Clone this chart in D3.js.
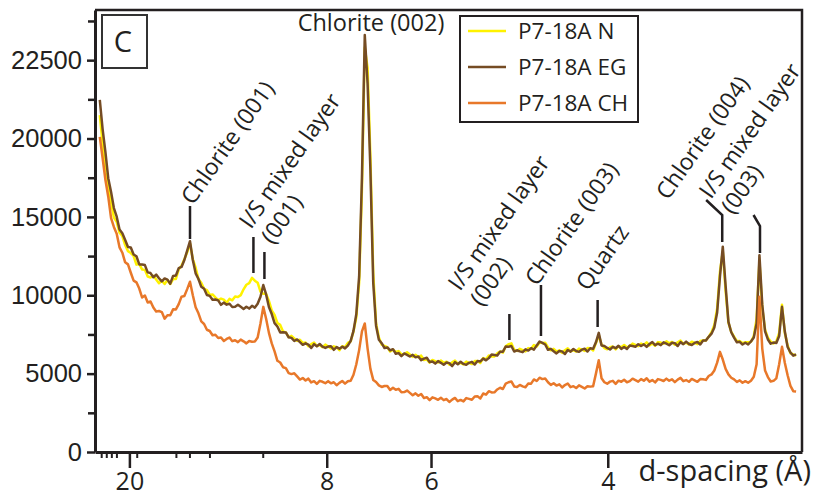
<!DOCTYPE html>
<html>
<head>
<meta charset="utf-8">
<script src="https://cdn.jsdelivr.net/npm/d3@7/dist/d3.min.js"></script>
<style>
  body { margin: 0; background: #fff; }
  svg { display: block; }
</style>
</head>
<body>
<script>
// 2-theta grid of the scan (degrees), one value every 0.1 deg
var twoThetaStart = 3.0,
    twoThetaStep = 0.1;

var seriesNames = ["P7-18A N", "P7-18A EG", "P7-18A CH"];
var seriesColors = ["#fff200", "#754c24", "#e8782a"];

// counts, rows = whole degrees 3..27
var countsN = [
  21500,19685,17835,16975,15930,14960,14685,13990,13780,13205,
  12815,12695,12505,11955,11990,11650,11620,11195,11135,11240,
  11010,10765,10935,10720,10975,10715,11035,11040,11655,11880,
  12300,12740,13300,12300,11760,11030,10800,10410,10330,10020,
  10050,9860,9690,9790,9720,9520,9770,9680,9920,9890,
  10010,10380,10670,10770,11110,10930,10800,10230,10090,10090,
  9640,9030,8740,8230,8110,7690,7630,7330,7410,7250,
  7090,7160,6960,6980,6750,6880,6980,6760,6820,6690,
  6850,6730,6610,6740,6690,6490,6750,6680,6960,7060,
  7700,8600,10800,16800,25800,24500,18800,11400,8200,7300,
  6850,6770,6690,6410,6530,6380,6440,6230,6250,6360,
  6220,6070,6200,6050,6150,5870,5910,5700,5870,5800,
  5710,5840,5690,5760,5570,5720,5830,5620,5690,5590,
  5770,5690,5610,5800,5810,5680,5990,5920,6160,6090,
  6100,6290,6410,6340,6740,6880,6930,6530,6450,6580,
  6500,6420,6630,6580,6820,6730,6980,6960,6970,6680,
  6490,6580,6410,6490,6320,6490,6610,6420,6500,6410,
  6600,6530,6450,6630,6620,6480,6950,7450,6850,6630,
  6550,6680,6730,6550,6750,6690,6830,6680,6750,6920,
  6840,6750,6920,6830,7000,6800,6920,6780,7010,6980,
  6910,7060,6930,7020,6840,7000,7110,6900,6970,6860,
  7040,6960,6880,7080,7110,7120,7350,7650,8100,9150,
  11500,12800,10300,8250,7660,7360,7070,7080,6940,7000,
  7010,7030,7400,8500,12200,9200,7800,7290,7050,6920,
  7050,7600,9400,7600,6800,6300,6230,6150
];

var countsEG = [
  22460,20595,19135,17470,16595,15565,15015,14190,13955,13530,
  13075,13050,12605,12490,11970,11960,11925,11460,11415,11150,
  11320,11085,10885,11075,11000,10740,11235,11260,11730,11805,
  12250,12850,13450,12250,11400,11040,10540,10420,10020,9960,
  9710,9730,9670,9390,9530,9400,9460,9250,9270,9390,
  9260,9130,9270,9150,9330,9210,9460,9900,10650,10050,
  9250,8800,8220,8010,7630,7640,7630,7320,7280,7080,
  7180,7010,6840,6930,6850,6640,6880,6740,6890,6720,
  6640,6730,6750,6520,6690,6590,6720,6610,6790,7090,
  7730,8800,11200,17500,26600,23500,18000,10800,8060,7160,
  6940,6630,6670,6480,6560,6270,6310,6120,6290,6200,
  6090,6200,6040,6090,5860,5960,6010,5740,5770,5640,
  5800,5690,5570,5710,5670,5480,5730,5600,5760,5620,
  5560,5690,5750,5580,5810,5780,5960,5850,5990,6220,
  6190,6150,6390,6400,6730,6710,6760,6410,6490,6420,
  6370,6550,6470,6620,6530,6800,7050,6960,6860,6520,
  6580,6430,6290,6440,6420,6250,6510,6400,6570,6440,
  6390,6530,6590,6410,6620,6580,7000,7600,6800,6760,
  6640,6540,6710,6620,6780,6580,6700,6570,6790,6760,
  6710,6880,6760,6870,6710,6890,7020,6820,6910,6820,
  7000,6910,6810,6970,6940,6760,7010,6880,7040,6890,
  6830,6960,7020,6860,7110,7110,7350,7550,7950,8900,
  11200,13100,10600,8300,7640,7300,7000,7030,6860,6970,
  6860,7050,7300,8200,12560,9400,7700,7180,6910,6980,
  6960,7400,9260,7700,6700,6350,6150,6230
];

var countsCH = [
  20100,18750,17355,16290,14920,14360,13925,13060,12715,12100,
  11970,11435,10935,10825,10430,9860,9985,9540,9600,9215,
  8965,8995,8925,8505,8730,8720,9100,9095,9435,9910,
  9950,10390,10860,10000,9240,8850,8330,8170,7800,7720,
  7450,7480,7270,7310,7080,7210,7300,7070,7130,7010,
  7170,7060,6930,7080,7040,7050,7300,8200,9260,8500,
  7600,6930,6420,5820,5710,5410,5350,5030,4970,5020,
  4820,4620,4720,4560,4680,4440,4520,4350,4540,4480,
  4390,4520,4380,4450,4260,4410,4530,4360,4510,4550,
  4930,5600,6500,7700,8200,6600,5300,4600,4470,4250,
  4150,4210,4210,3960,4100,3970,4030,3810,3820,3920,
  3770,3620,3740,3590,3700,3440,3500,3310,3490,3420,
  3330,3460,3310,3380,3190,3340,3450,3240,3320,3230,
  3440,3390,3330,3540,3550,3420,3730,3660,3880,3800,
  3810,3990,4100,4020,4360,4450,4500,4180,4150,4280,
  4190,4130,4370,4360,4630,4530,4740,4650,4690,4450,
  4280,4390,4240,4320,4120,4270,4370,4140,4200,4080,
  4250,4150,4050,4200,4170,4200,5000,5860,4700,4450,
  4360,4490,4540,4350,4550,4480,4610,4450,4520,4680,
  4590,4490,4650,4550,4700,4490,4590,4440,4650,4600,
  4530,4680,4550,4640,4460,4620,4730,4520,4590,4480,
  4660,4570,4480,4650,4640,4600,4850,4950,5200,5700,
  6390,5900,5300,4950,4740,4630,4470,4570,4420,4520,
  4420,4550,4800,5600,9900,6600,5200,4780,4500,4540,
  4700,5600,6710,5700,4900,4220,3880,3860
];

// axis ticks as printed on the figure
var yTickValues = [0, 5000, 10000, 15000, 20000, 25000];
var yTickLabels = ["0", "5000", "10000", "15000", "20000", "22500"];
var yMinorTicks = [2500, 7500, 12500, 17500, 22500, 27500];
var xTickValues = [4.05, 11.05, 14.75, 21.02];     // in 2-theta
var xTickLabels = ["20", "8", "6", "4"];           // d-spacing
var xMinorTicks = [3.05, 3.23, 3.41, 3.59, 4.31, 5.70, 6.18, 6.89, 8.78];

var width = 814,
    height = 498;

var svg = d3.select("body").append("svg")
    .attr("width", width)
    .attr("height", height);

var x = d3.scaleLinear().domain([2.83, 27.91]).range([95, 802]);
var y = d3.scaleLinear().domain([0, 28200]).range([452, 10]);

var fontAxis = "'Liberation Sans', Arial, sans-serif";
var fontText = "'Open Sans', 'Noto Sans', sans-serif";
var ink = "#231f20";

svg.append("clipPath").attr("id", "plot")
  .append("rect").attr("x", 95).attr("y", 10).attr("width", 707).attr("height", 442);

var line = d3.line()
    .x(function (d, i) { return x(twoThetaStart + i * twoThetaStep); })
    .y(function (d) { return y(d); });

var allSeries = [countsN, countsEG, countsCH];

svg.append("g").attr("clip-path", "url(#plot)")
  .selectAll("path")
  .data(allSeries)
  .enter().append("path")
    .attr("d", line)
    .attr("fill", "none")
    .attr("stroke", function (d, i) { return seriesColors[i]; })
    .attr("stroke-width", 2.5)
    .attr("stroke-linejoin", "round");

// frame top/right
svg.append("path")
  .attr("d", "M95,10H802V452")
  .attr("fill", "none")
  .attr("stroke", ink)
  .attr("stroke-width", 2.5);

// y axis
var yAxis = d3.axisLeft(y)
    .tickValues(yTickValues)
    .tickFormat(function (d, i) { return yTickLabels[i]; })
    .tickSize(8)
    .tickSizeOuter(0)
    .tickPadding(5);

var gy = svg.append("g").attr("transform", "translate(95,0)").call(yAxis);
gy.select(".domain").attr("stroke", ink).attr("stroke-width", 3);
gy.selectAll(".tick line").attr("stroke", ink).attr("stroke-width", 2.5);
gy.selectAll(".tick text")
  .attr("fill", ink)
  .style("font-family", fontAxis)
  .style("font-size", "25.5px");

svg.append("g").attr("transform", "translate(95,0)")
  .call(d3.axisLeft(y).tickValues(yMinorTicks).tickSize(7).tickFormat(""))
  .call(function (g) { g.select(".domain").remove(); })
  .selectAll(".tick line").attr("stroke", ink).attr("stroke-width", 2.5);

// x axis
var xAxis = d3.axisBottom(x)
    .tickValues(xTickValues)
    .tickFormat(function (d, i) { return xTickLabels[i]; })
    .tickSize(16)
    .tickSizeOuter(0)
    .tickPadding(4);

var gx = svg.append("g").attr("transform", "translate(0,452)").call(xAxis);
gx.select(".domain").attr("stroke", ink).attr("stroke-width", 3);
gx.selectAll(".tick line").attr("stroke", ink).attr("stroke-width", 2.5);
gx.selectAll(".tick text")
  .attr("fill", ink)
  .style("font-family", fontText)
  .style("font-size", "25px");

svg.append("g").attr("transform", "translate(0,452)")
  .call(d3.axisBottom(x).tickValues(xMinorTicks).tickSize(6).tickFormat(""))
  .call(function (g) { g.select(".domain").remove(); })
  .selectAll(".tick line").attr("stroke", ink).attr("stroke-width", 2);

svg.append("text")
  .attr("x", 811).attr("y", 481)
  .attr("text-anchor", "end")
  .attr("fill", ink)
  .style("font-family", fontText)
  .style("font-size", "29px")
  .text("d-spacing (Å)");

// panel letter
svg.append("rect")
  .attr("x", 102).attr("y", 15).attr("width", 45).attr("height", 53)
  .attr("fill", "#fff").attr("stroke", "#333").attr("stroke-width", 2);
svg.append("text")
  .attr("x", 123).attr("y", 52)
  .attr("text-anchor", "middle")
  .attr("fill", ink)
  .style("font-family", fontText)
  .style("font-size", "29px")
  .text("C");

// legend
var legend = svg.append("g");
legend.append("rect")
  .attr("x", 460).attr("y", 16).attr("width", 178).attr("height", 106)
  .attr("fill", "#fff").attr("stroke", ink).attr("stroke-width", 2);
var li = legend.selectAll("g.item").data(seriesNames).enter().append("g")
  .attr("class", "item")
  .attr("transform", function (d, i) { return "translate(468," + (31 + i * 36) + ")"; });
li.append("line")
  .attr("x1", 0).attr("x2", 38)
  .attr("stroke", function (d, i) { return seriesColors[i]; })
  .attr("stroke-width", 2.5);
li.append("text")
  .attr("x", 50).attr("y", 8)
  .attr("fill", ink)
  .style("font-family", fontText)
  .style("font-size", "22.5px")
  .text(function (d) { return d; });

// peak labels
var angle = -55;
var peakLabels = [
  { lines: ["Chlorite (001)"], tx: 193, ty: 206, leader: [[6.20, 206], [6.20, 239]] },
  { lines: ["I/S mixed layer", "(001)"], tx: 251, ty: 230, leader: [[8.45, 237], [8.45, 273]] },
  { lines: [], leader: [[8.84, 252], [8.84, 279]] },
  { lines: ["I/S mixed layer", "(002)"], tx: 460, ty: 292, leader: [[17.53, 314], [17.53, 340]] },
  { lines: ["Chlorite (003)"], tx: 537, ty: 287, leader: [[18.65, 285], [18.65, 336]] },
  { lines: ["Quartz"], tx: 588, ty: 292, leader: [[20.66, 300], [20.66, 327]] },
  { lines: ["Chlorite (004)"], tx: 668, ty: 201, leader: [[24.51, 200], [25.08, 215], [25.08, 242]] },
  { lines: ["I/S mixed layer", "(003)"], tx: 711, ty: 200, leader: [[26.19, 215], [26.42, 226], [26.42, 253]] }
];

var labels = svg.append("g");
peakLabels.forEach(function (p) {
  labels.append("path")
    .attr("d", d3.line().x(function (d) { return x(d[0]); }).y(function (d) { return d[1]; })(p.leader))
    .attr("fill", "none")
    .attr("stroke", ink)
    .attr("stroke-width", 2.5);
  if (!p.lines.length) return;
  var t = labels.append("text")
    .attr("transform", "translate(" + p.tx + "," + p.ty + ") rotate(" + angle + ")")
    .attr("fill", ink)
    .style("font-family", fontText)
    .style("font-size", "23px");
  p.lines.forEach(function (s, i) {
    t.append("tspan").attr("x", 0).attr("dy", i ? 27 : 0).text(s);
  });
});

svg.append("text")
  .attr("x", 371).attr("y", 31)
  .attr("text-anchor", "middle")
  .attr("fill", ink)
  .style("font-family", fontText)
  .style("font-size", "23.5px")
  .text("Chlorite (002)");
</script>
</body>
</html>
